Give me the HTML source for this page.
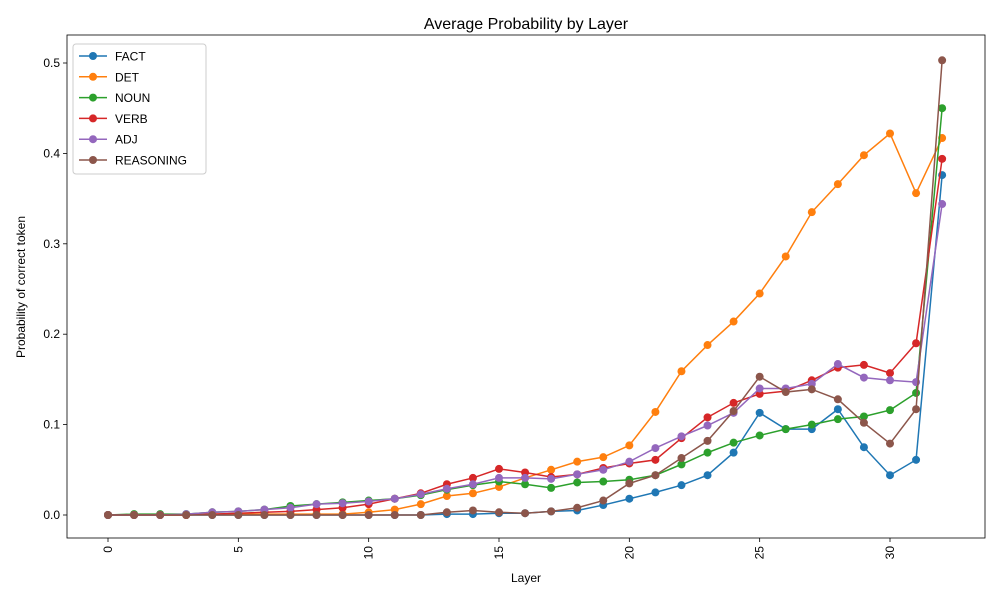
<!DOCTYPE html>
<html><head><meta charset="utf-8"><style>
body{margin:0;background:#fff;font-family:"Liberation Sans","DejaVu Sans",sans-serif;}
svg text{font-family:"Liberation Sans","DejaVu Sans",sans-serif;fill:#000;}
</style></head><body>
<svg id="chart" width="1000" height="600"></svg>
<script>
const layers=[...Array(33).keys()];
const seriesNames=["FACT","DET","NOUN","VERB","ADJ","REASONING"];
const colors=["#1f77b4","#ff7f0e","#2ca02c","#d62728","#9467bd","#8c564b"];
const factVals=[0,0,0,0,0,0,0,0,0,0,0,0,0,0.001,0.001,0.002,0.002,0.004,0.005,0.011,0.018,0.025,0.033,0.044,0.069,0.113,0.095,0.095,0.117,0.075,0.044,0.061,0.376];
const detVals=[0,0,0,0,0.001,0.001,0.001,0.001,0.001,0.001,0.003,0.006,0.012,0.021,0.024,0.031,0.041,0.05,0.059,0.064,0.077,0.114,0.159,0.188,0.214,0.245,0.286,0.335,0.366,0.398,0.422,0.356,0.417];
const nounVals=[0,0.001,0.001,0.001,0.003,0.004,0.006,0.01,0.012,0.014,0.016,0.018,0.022,0.028,0.033,0.037,0.034,0.03,0.036,0.037,0.039,0.044,0.056,0.069,0.08,0.088,0.095,0.1,0.106,0.109,0.116,0.135,0.45];
const verbVals=[0,0,0,0,0.001,0.002,0.003,0.004,0.006,0.008,0.012,0.018,0.024,0.034,0.041,0.051,0.047,0.042,0.045,0.052,0.057,0.061,0.085,0.108,0.124,0.134,0.137,0.149,0.163,0.166,0.157,0.19,0.394];
const adjVals=[0,0,0,0.001,0.003,0.004,0.006,0.008,0.012,0.013,0.015,0.018,0.023,0.029,0.034,0.041,0.041,0.04,0.045,0.05,0.059,0.074,0.087,0.099,0.113,0.14,0.14,0.145,0.167,0.152,0.149,0.147,0.344];
const reasoningVals=[0,0,0,0,0,0,0,0,0,0,0,0,0,0.003,0.005,0.003,0.002,0.004,0.008,0.016,0.035,0.044,0.063,0.082,0.115,0.153,0.136,0.139,0.128,0.102,0.079,0.117,0.503];
const xTicks=[0,5,10,15,20,25,30];
const yTicks=[0,0.1,0.2,0.3,0.4,0.5];
const allSeries=[factVals,detVals,nounVals,verbVals,adjVals,reasoningVals];

const NS="http://www.w3.org/2000/svg";
const svg=document.getElementById("chart");
const L=67,R=985,T=35,B=538;
const xScale=v=>108+v*(890-108)/30;
const yScale=v=>515-v*(515-63)/0.5;
function el(tag,attrs,parent){const e=document.createElementNS(NS,tag);for(const k in attrs)e.setAttribute(k,attrs[k]);(parent||svg).appendChild(e);return e;}

let t=el("text",{x:526,y:29,"text-anchor":"middle","font-size":16});t.textContent="Average Probability by Layer";



const plot=el("g",{});


allSeries.forEach((vals,i)=>{
  const g=el("g",{},plot);
  
  
  const pts=vals.map((v,j)=>xScale(layers[j])+","+yScale(v)).join(" ");
  el("polyline",{points:pts,fill:"none",stroke:colors[i],"stroke-width":1.5},g);
  vals.forEach((v,j)=>{
    const c=el("circle",{cx:xScale(layers[j]),cy:yScale(v),r:4,fill:colors[i]},g);
    
    
  });
});

const frame=el("rect",{x:L,y:T,width:R-L,height:B-T,fill:"none",stroke:"#000","stroke-width":0.8});



xTicks.forEach(v=>{
  const x=xScale(v);
  el("line",{x1:x,x2:x,y1:B,y2:B+4,stroke:"#000","stroke-width":0.8});
  const tx=el("text",{x:x+4,y:B+8,"font-size":12,"text-anchor":"end",transform:`rotate(-90 ${x+4} ${B+8})`});
  tx.textContent=v;
  
  
});
yTicks.forEach(v=>{
  const y=yScale(v);
  el("line",{x1:L-4,x2:L,y1:y,y2:y,stroke:"#000","stroke-width":0.8});
  const ty=el("text",{x:L-7,y:y+4,"font-size":12,"text-anchor":"end"});
  ty.textContent=v.toFixed(1);
  
  
});
t=el("text",{x:526,y:582,"text-anchor":"middle","font-size":12});t.textContent="Layer";


t=el("text",{x:25,y:287,"text-anchor":"middle","font-size":12,transform:"rotate(-90 25 287)"});t.textContent="Probability of correct token";



const lg=el("g",{});


el("rect",{x:73,y:44,width:133,height:130,rx:3,fill:"#fff","fill-opacity":0.8,stroke:"#ccc"},lg);
seriesNames.forEach((n,i)=>{
  const y=56+i*20.8;
  const e=el("g",{},lg);
  
  
  el("line",{x1:79,x2:107,y1:y,y2:y,stroke:colors[i],"stroke-width":1.5},e);
  el("circle",{cx:93,cy:y,r:4,fill:colors[i]},e);
  const tt=el("text",{x:115,y:y+4.5,"font-size":12},e);tt.textContent=n;
});
</script>
</body></html>
